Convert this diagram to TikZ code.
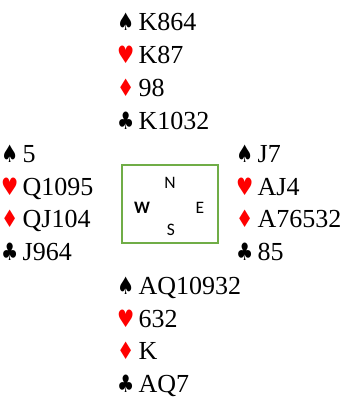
\documentclass[tikz,border=0pt]{standalone}
\usepackage{fontspec}
\setmainfont{Liberation Serif}
\newfontfamily\suitfont{DejaVu Sans}
\newfontfamily\seatfont{Carlito}
\usepackage{xcolor}
\usetikzlibrary{positioning}

\definecolor{tablegreen}{HTML}{70AD47}
\newcommand{\suit}[1]{\scalebox{0.8}[1]{\suitfont\fontsize{24}{24}\selectfont #1}}
\newcommand{\Sp}{\suit{♠}}
\newcommand{\Hr}{\textcolor{red}{\suit{♥}}}
\newcommand{\Dm}{\textcolor{red}{\suit{♦}}}
\newcommand{\Cl}{\suit{♣}}

\begin{document}
\begin{tikzpicture}[
  x=1pt, y=-1pt,
  cards/.style={anchor=base west, inner sep=0pt, font=\fontsize{26}{31}\selectfont},
  seat/.style={inner sep=0pt, font=\seatfont\fontsize{17.5}{19}\selectfont},
  compass/.style={draw=tablegreen, line width=1.8pt, minimum width=96.5pt,
                  minimum height=78.5pt, inner sep=0pt}
]
\useasboundingbox (0,0) rectangle (347,406);

% the four hands
\foreach \sym/\hold [count=\i] in {\Sp/K864,\Hr/K87,\Dm/98,\Cl/K1032}
  \node[cards] (north\i) at (117,{31+32.8*(\i-1)}) {\makebox[21.5pt][l]{\sym}\hold};
\foreach \sym/\hold [count=\i] in {\Sp/5,\Hr/Q1095,\Dm/QJ104,\Cl/J964}
  \node[cards] (west\i) at (1,{162.3+32.7*(\i-1)}) {\makebox[21.5pt][l]{\sym}\hold};
\foreach \sym/\hold [count=\i] in {\Sp/J7,\Hr/AJ4,\Dm/A76532,\Cl/85}
  \node[cards] (east\i) at (236,{162.3+32.7*(\i-1)}) {\makebox[21.5pt][l]{\sym}\hold};
\foreach \sym/\hold [count=\i] in {\Sp/AQ10932,\Hr/632,\Dm/K,\Cl/AQ7}
  \node[cards] (south\i) at (117,{294.5+32.7*(\i-1)}) {\makebox[21.5pt][l]{\sym}\hold};

% the table
\node[compass] (deal) at (170,204) {};
\node[seat] (seatN) at (170,183) {N};
\node[seat] (seatW) at (142,208) {\textbf{W}};
\node[seat] (seatE) at (200,208) {E};
\node[seat] (seatS) at (171,230) {S};
\end{tikzpicture}
\end{document}
